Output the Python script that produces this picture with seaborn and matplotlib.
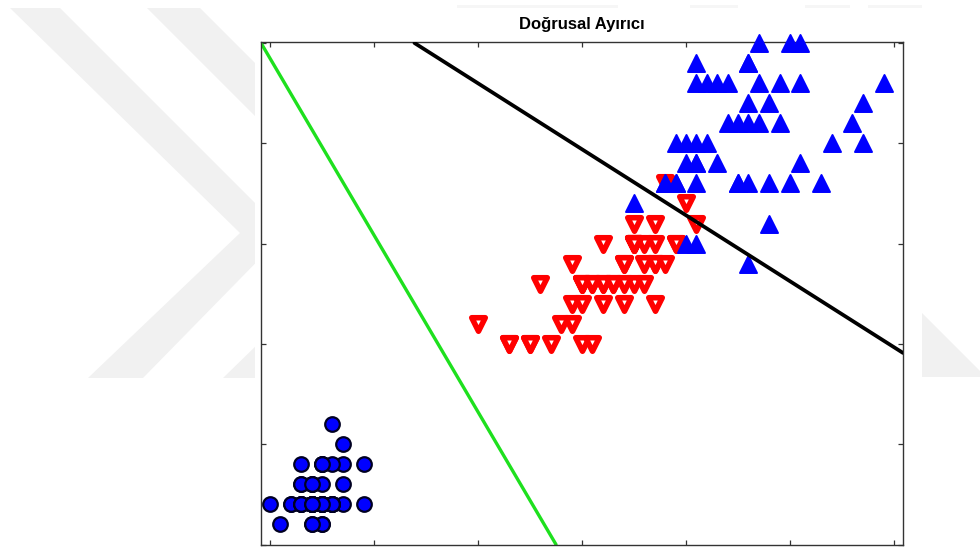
import matplotlib
matplotlib.use("Agg")
import matplotlib.pyplot as plt
import seaborn as sns
import pandas as pd
from matplotlib.patches import Polygon, Rectangle

# ---- data (petal length / petal width) ----
setosa_len = [1.4,1.4,1.3,1.5,1.4,1.7,1.4,1.5,1.4,1.5,1.5,1.6,1.4,1.1,1.2,1.5,1.3,1.4,1.7,1.5,
              1.7,1.5,1.0,1.7,1.9,1.6,1.6,1.5,1.4,1.6,1.6,1.5,1.5,1.4,1.5,1.2,1.3,1.4,1.3,1.5,
              1.3,1.3,1.3,1.6,1.9,1.4,1.6,1.4,1.5,1.4]
setosa_wid = [0.2,0.2,0.2,0.2,0.2,0.4,0.3,0.2,0.2,0.1,0.2,0.2,0.1,0.1,0.2,0.4,0.4,0.3,0.3,0.3,
              0.2,0.4,0.2,0.5,0.2,0.2,0.4,0.2,0.2,0.2,0.2,0.4,0.1,0.2,0.2,0.2,0.2,0.1,0.2,0.2,
              0.3,0.3,0.2,0.6,0.4,0.3,0.2,0.2,0.2,0.2]
versicolor_len = [4.7,4.5,4.9,4.0,4.6,4.5,4.7,3.3,4.6,3.9,3.5,4.2,4.0,4.7,3.6,4.4,4.5,4.1,4.5,3.9,
                  4.8,4.0,4.9,4.7,4.3,4.4,4.8,5.0,4.5,3.5,3.8,3.7,3.9,5.1,4.5,4.5,4.7,4.4,4.1,4.0,
                  4.4,4.6,4.0,3.3,4.2,4.2,4.2,4.3,3.0,4.1]
versicolor_wid = [1.4,1.5,1.5,1.3,1.5,1.3,1.6,1.0,1.3,1.4,1.0,1.5,1.0,1.4,1.3,1.4,1.5,1.0,1.5,1.1,
                  1.8,1.3,1.5,1.2,1.3,1.4,1.4,1.7,1.5,1.0,1.1,1.0,1.2,1.6,1.5,1.6,1.5,1.3,1.3,1.3,
                  1.2,1.4,1.2,1.0,1.3,1.2,1.3,1.3,1.1,1.3]
virginica_len = [6.0,5.1,5.9,5.6,5.8,6.6,4.5,6.3,5.8,6.1,5.1,5.3,5.5,5.0,5.1,5.3,5.5,6.7,6.9,5.0,
                 5.7,4.9,6.7,4.9,5.7,6.0,4.8,4.9,5.6,5.8,6.1,6.4,5.6,5.1,5.6,6.1,5.6,5.5,4.8,5.4,
                 5.6,5.1,5.1,5.9,5.7,5.2,5.0,5.2,5.4,5.1]
virginica_wid = [2.5,1.9,2.1,1.8,2.2,2.1,1.7,1.8,1.8,2.5,2.0,1.9,2.1,2.0,2.4,2.3,1.8,2.2,2.3,1.5,
                 2.3,2.0,2.0,1.8,2.1,1.8,1.8,1.8,2.1,1.6,1.9,2.0,2.2,1.5,1.4,2.3,2.4,1.8,1.8,2.1,
                 2.4,2.3,1.9,2.3,2.5,2.3,1.9,2.0,2.3,1.8]

# separator lines (end points)
green_x = [0.913, 3.75]
green_y = [2.5, 0.0]
black_x = [2.389, 7.087]
black_y = [2.5, 0.955]

x_ticks = [1, 2, 3, 4, 5, 6, 7]
y_ticks = [0.0, 0.5, 1.0, 1.5, 2.0, 2.5]
title = "Doğrusal Ayırıcı"

sns.set_style("white")
plt.rcParams["font.family"] = ["Liberation Sans", "DejaVu Sans"]

W, H = 980, 549
fig = plt.figure(figsize=(W / 100, H / 100), dpi=100)

def px(pts):
    return [(x / W, 1 - y / H) for x, y in pts]

wm = "#f1f1f1"
for poly in [
    [(10, 8), (60, 8), (285, 233), (143, 378), (88, 378), (240, 233)],
    [(147, 8), (200, 8), (425, 233), (278, 378), (223, 378), (372, 233)],
    [(922, 313), (980, 371), (980, 377), (922, 377)],
]:
    fig.patches.append(Polygon(px(poly), closed=True, transform=fig.transFigure,
                               facecolor=wm, edgecolor="none", zorder=-3))
for poly in [
    [(457, 5), (618, 5), (618, 8), (457, 8)],
    [(690, 5), (738, 5), (738, 8), (690, 8)],
    [(805, 5), (850, 5), (850, 8), (805, 8)],
    [(868, 5), (922, 5), (922, 8), (868, 8)],
]:
    fig.patches.append(Polygon(px(poly), closed=True, transform=fig.transFigure,
                               facecolor="#f6f6f6", edgecolor="none", zorder=-3))
fig.patches.append(Rectangle((255 / W, 0), (922 - 255) / W, 1 - 12 / H,
                             transform=fig.transFigure, facecolor="white",
                             edgecolor="none", zorder=-2))

ax = fig.add_axes([261 / W, 1 - 544.5 / H, (903 - 261) / W, (544.5 - 42) / H])
ax.set_facecolor("white")

sns.lineplot(x=green_x, y=green_y, color="#1ee01e", linewidth=2.4, sort=False,
             ax=ax, zorder=2)
sns.lineplot(x=black_x, y=black_y, color="black", linewidth=2.7, sort=False,
             ax=ax, zorder=5)

sns.scatterplot(x=setosa_len, y=setosa_wid, marker="o", s=110, color="#0000ff",
                edgecolor="#000022", linewidth=1.6, ax=ax, zorder=3, clip_on=False)
sns.scatterplot(x=versicolor_len, y=versicolor_wid, marker="v", s=95, color="white",
                edgecolor="#ff0000", linewidth=4.0, joinstyle="round", ax=ax,
                zorder=3, clip_on=False)
sns.scatterplot(x=virginica_len, y=virginica_wid, marker="^", s=150, color="#0000ff",
                edgecolor="#0000ff", linewidth=1.4, joinstyle="round", ax=ax,
                zorder=4, clip_on=False)

ax.set_xlim(0.913, 7.087)
ax.set_ylim(0.0, 2.505)
ax.set_xticks(x_ticks)
ax.set_yticks(y_ticks)
ax.tick_params(direction="in", length=3.5, width=0.9, color="#333333",
               top=True, right=True, bottom=True, left=True,
               labelbottom=False, labelleft=False)
for sp in ax.spines.values():
    sp.set_visible(True)
    sp.set_color("#333333")
    sp.set_linewidth(1.0)
ax.set_xlabel("")
ax.set_ylabel("")
ax.set_title(title, fontsize=12, fontweight="bold", pad=9, color="black")

fig.savefig("out.png", dpi=100)
